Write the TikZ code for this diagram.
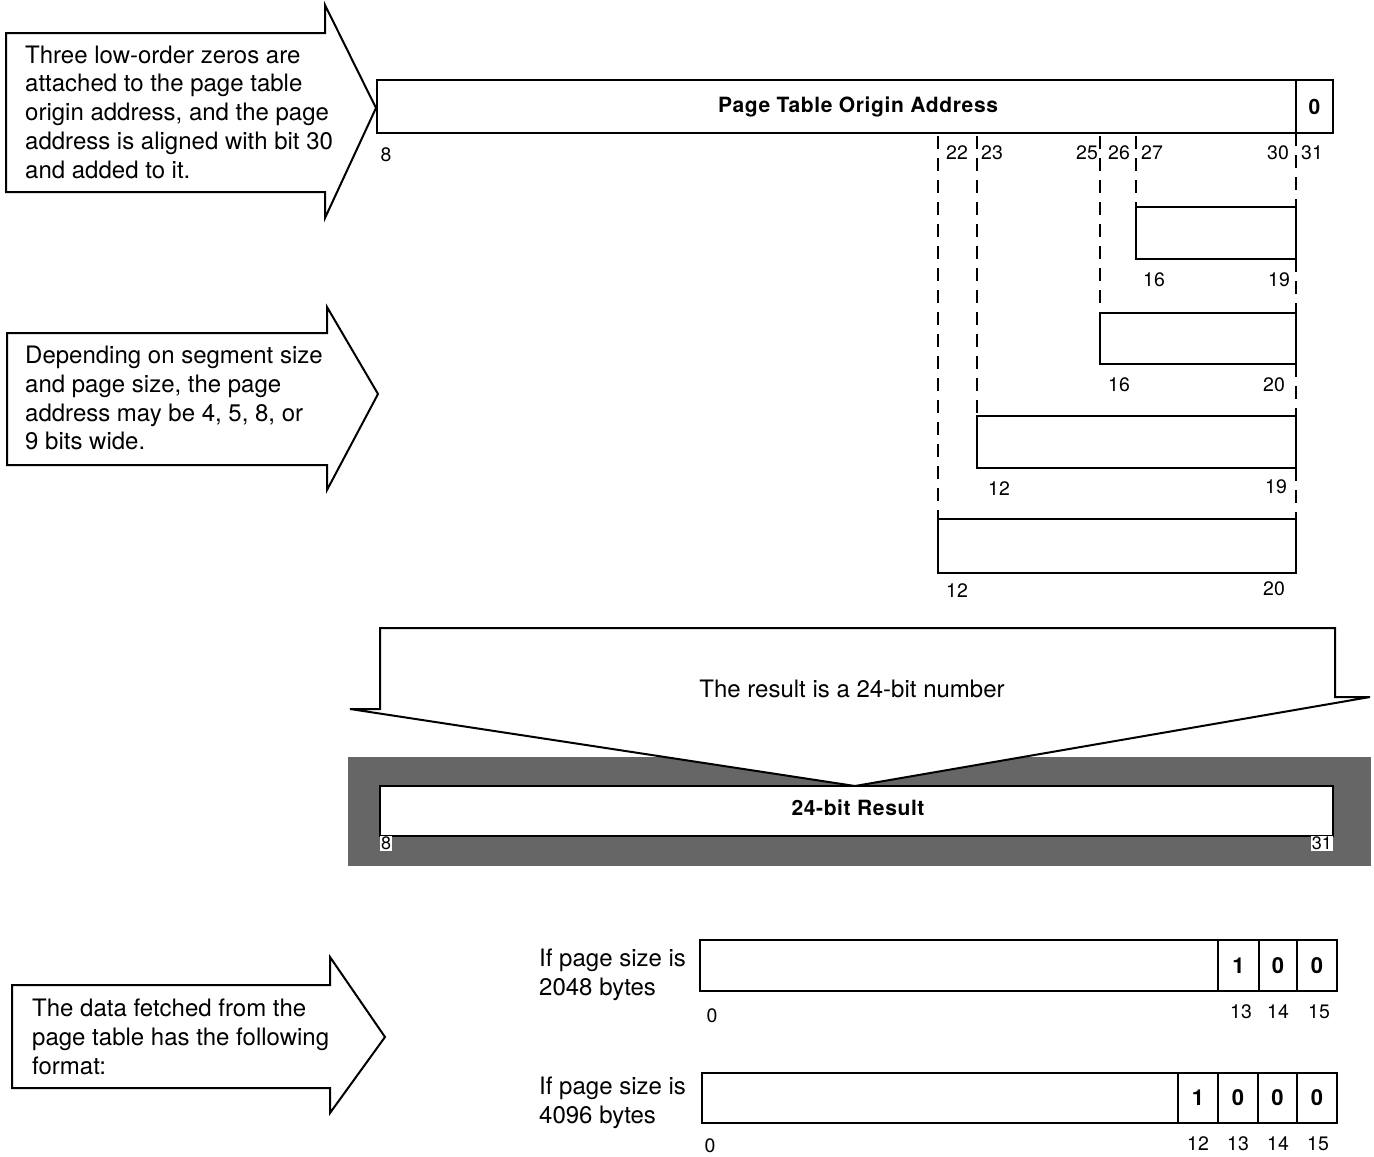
\documentclass[tikz,border=0pt]{standalone}
\usepackage{fontspec}
\setmainfont{TeX Gyre Heros}
\definecolor{halftone}{gray}{0.4}
\begin{document}
\begin{tikzpicture}[x=1pt,y=-1pt,line join=miter,
  outline/.style={draw=black,line width=2pt,fill=white},
  bitbox/.style={outline,inner sep=0pt,outer sep=0pt,anchor=north west},
  cellbox/.style={bitbox,minimum width=#1,font=\bfseries\fontsize{22}{24}\selectfont},
  guide/.style={draw=black,line width=1.3pt,dash pattern=on 13pt off 9pt},
  note/.style={align=left,anchor=north west,inner sep=0pt,font=\fontsize{24}{28.7}\selectfont},
  bitno/.style={inner sep=0pt,font=\fontsize{19.5}{21}\selectfont},
  title/.style={inner sep=0pt,anchor=base,font=\bfseries\fontsize{21}{24}\selectfont\addfontfeatures{LetterSpace=3}},
  tab/.style={fill=white,inner sep=1pt,font=\fontsize{18}{18}\selectfont},
]
\useasboundingbox (0,0) rectangle (1374,1157);

% first callout arrow
\draw[outline] (6,33) -- (325,33) -- (325,5) -- (376,108) -- (325,218) -- (325,192) -- (6,192) -- cycle;
\node[note] (n1) at (25,45.5) {Three low-order zeros are\\attached to the page table\\origin address, and the page\\address is aligned with bit 30\\and added to it.};

% page table origin register
\node[bitbox,minimum width=919,minimum height=53] (pto) at (377,80) {};
\node[bitbox,minimum width=37,minimum height=53] (zb) at (1296,80) {};
\node[title] (ptot) at (858,112) {Page Table Origin Address};
\node[inner sep=0pt,font=\bfseries\fontsize{21}{24}\selectfont] (zbt) at (zb.center) {0};

\node[bitno] (l8) at (386,155) {8};
\node[bitno] (l22) at (957,153) {22};
\node[bitno] (l23) at (992,153) {23};
\node[bitno] (l25) at (1087,153) {25};
\node[bitno] (l26) at (1119,153) {26};
\node[bitno] (l27) at (1152,153) {27};
\node[bitno] (l30) at (1278,153) {30};
\node[bitno] (l31) at (1312,153) {31};

% page address widths
\node[bitbox,minimum width=160,minimum height=52] (ba) at (1136,207) {};
\node[bitbox,minimum width=196,minimum height=51] (bb) at (1100,313) {};
\node[bitbox,minimum width=319,minimum height=52] (bc) at (977,416) {};
\node[bitbox,minimum width=358,minimum height=54] (bd) at (938,519) {};

\node[bitno] (a16) at (1154,280) {16};
\node[bitno] (a19) at (1279,280) {19};
\node[bitno] (b16) at (1119,385) {16};
\node[bitno] (b20) at (1274,385) {20};
\node[bitno] (c12) at (999,489) {12};
\node[bitno] (c19) at (1276,487) {19};
\node[bitno] (d12) at (957,591) {12};
\node[bitno] (d20) at (1274,589) {20};

% alignment guides
\coordinate (t22) at (938,136);
\coordinate (t23) at (977,136);
\coordinate (t25) at (1100,136);
\coordinate (t27) at (1136,136);
\draw[guide] (t22) -- (bd.north west);
\draw[guide] (t23) -- (bc.north west);
\draw[guide] (t25) -- (bb.north west);
\draw[guide] (t27) -- (ba.north west);
\draw[guide] (zb.south west) -- (ba.north east);
\draw[guide] (ba.south east) -- (bb.north east);
\draw[guide] (bb.south east) -- (bc.north east);
\draw[guide] (bc.south east) -- (bd.north east);

% second callout arrow
\draw[outline] (7,333) -- (327,333) -- (327,307) -- (378,394) -- (327,490) -- (327,465) -- (7,465) -- cycle;
\node[note] (n2) at (25,346) {Depending on segment size\\and page size, the page\\address may be 4, 5, 8, or\\9 bits wide.};

% result band and funnel arrow
\fill[halftone] (348,757) rectangle (1371,866);
\draw[outline] (380,628) -- (1335,628) -- (1335,697) -- (1370,697) -- (855,786) -- (350,709) -- (380,709) -- cycle;
\node[inner sep=0pt,font=\fontsize{24}{28}\selectfont] (rt) at (852,688.5) {The result is a 24-bit number};
\node[bitbox,minimum width=953,minimum height=50,line width=1.5pt] (res) at (380,786) {};
\node[title] (rest) at (858,815) {24-bit Result};
\node[tab,anchor=north west] (r8) at (res.south west) {8};
\node[tab,anchor=north east] (r31) at (res.south east) {31};

% page table entry formats
\node[note] (p1) at (539,949) {If page size is\\2048 bytes};
\node[bitbox,minimum width=637,minimum height=51] (fe) at (700,940) {};
\node[cellbox=41,minimum height=51] (e13) at (1218,940) {1};
\node[cellbox=38,minimum height=51] (e14) at (1259,940) {0};
\node[cellbox=40,minimum height=51] (e15) at (1297,940) {0};
\node[bitno] (e0l) at (712,1016) {0};
\node[bitno] (e13l) at (1241,1012) {13};
\node[bitno] (e14l) at (1278,1012) {14};
\node[bitno] (e15l) at (1319,1012) {15};

\node[note] (p2) at (539,1077) {If page size is\\4096 bytes};
\node[bitbox,minimum width=635,minimum height=50] (ff) at (702,1073) {};
\node[cellbox=40,minimum height=50] (f12) at (1178,1073) {1};
\node[cellbox=40,minimum height=50] (f13) at (1218,1073) {0};
\node[cellbox=39,minimum height=50] (f14) at (1258,1073) {0};
\node[cellbox=40,minimum height=50] (f15) at (1297,1073) {0};
\node[bitno] (f0l) at (710,1146) {0};
\node[bitno] (f12l) at (1198,1144) {12};
\node[bitno] (f13l) at (1238,1144) {13};
\node[bitno] (f14l) at (1278,1144) {14};
\node[bitno] (f15l) at (1318,1144) {15};

% third callout arrow
\draw[outline] (12,985) -- (330,985) -- (330,957) -- (385,1037) -- (330,1113) -- (330,1088) -- (12,1088) -- cycle;
\node[note] (n3) at (32,999) {The data fetched from the\\page table has the following\\format:};
\end{tikzpicture}
\end{document}
